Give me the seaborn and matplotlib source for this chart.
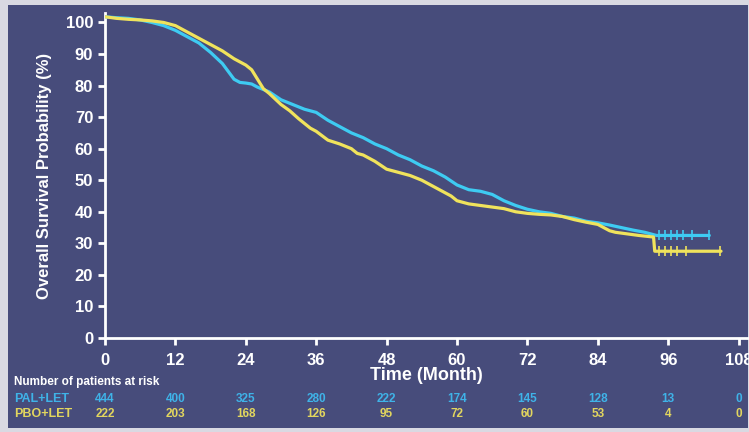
import matplotlib
matplotlib.use("Agg")
import matplotlib.pyplot as plt
from matplotlib.patches import Rectangle
import pandas as pd
import seaborn as sns

# ---------------------------------------------------------------------------
# Daten
# ---------------------------------------------------------------------------
pal_months = [0, 2, 4, 6, 8, 10, 12, 14, 16, 18, 20, 21, 22, 23, 24, 25, 26,
              28, 30, 32, 34, 36, 38, 40, 42, 44, 46, 48, 50, 52, 54, 56, 58,
              60, 62, 64, 66, 68, 70, 72, 74, 76, 78, 80, 82, 84, 86, 88, 90,
              92, 93, 94, 103]
pal_surv = [101.8, 101.5, 101.3, 100.8, 100, 99, 97.5, 95.5, 93.5, 90.5, 87,
            84.5, 82, 81, 80.8, 80.5, 79.5, 78, 75.5, 74, 72.5, 71.5, 69, 67,
            65, 63.5, 61.5, 60, 58, 56.5, 54.5, 53, 51, 48.5, 47, 46.5, 45.5,
            43.5, 42, 40.8, 40, 39.5, 38.5, 38, 37, 36.5, 35.8, 35, 34.2, 33.5,
            33, 32.5, 32.5]

pbo_months = [0, 2, 4, 6, 8, 10, 12, 14, 16, 18, 20, 22, 24, 25, 26, 27, 28,
              30, 31.5, 33, 35, 36, 38, 40, 42, 43, 44, 46, 48, 50, 52, 54, 56,
              57, 58, 59, 60, 62, 64, 66, 68, 70, 72, 74, 76, 78, 80, 82, 84,
              86, 87, 89, 91, 93.5, 93.7, 105]
pbo_surv = [101.8, 101.3, 101, 100.8, 100.5, 100, 99, 97, 95, 93, 91, 88.5,
            86.5, 85, 82, 79, 77.5, 74, 72, 69.5, 66.5, 65.5, 62.7, 61.5, 60,
            58.5, 58, 56, 53.5, 52.5, 51.5, 50, 48, 47, 46, 45, 43.5, 42.5, 42,
            41.5, 41, 40, 39.5, 39.2, 39, 38.5, 37.5, 36.7, 36, 34, 33.5, 33,
            32.5, 32, 27.5, 27.5]

# zensierte Beobachtungen (Tick-Markierungen)
pal_cens_t = [94.5, 95.5, 96.5, 97.5, 98.5, 100, 103]
pal_cens_s = [32.5, 32.5, 32.5, 32.5, 32.5, 32.5, 32.5]
pbo_cens_t = [94.5, 95.5, 96.5, 97.5, 99, 104.8]
pbo_cens_s = [27.5, 27.5, 27.5, 27.5, 27.5, 27.5]

tick_months = [0, 12, 24, 36, 48, 60, 72, 84, 96, 108]
pal_at_risk = [444, 400, 325, 280, 222, 174, 145, 128, 13, 0]
pbo_at_risk = [222, 203, 168, 126, 95, 72, 60, 53, 4, 0]

# ---------------------------------------------------------------------------
# Stil
# ---------------------------------------------------------------------------
BG = "#474c7b"
FRAME = "#d9d9e2"
PAL_COLOR = "#3ecbf2"
PBO_COLOR = "#f0e35c"
PAL_TXT = "#3fb3e8"
PBO_TXT = "#e2d65e"

sns.set_theme(style="ticks")
plt.rcParams["font.family"] = ["Liberation Sans", "DejaVu Sans"]
plt.rcParams["font.weight"] = "bold"

fig = plt.figure(figsize=(7.49, 4.32), dpi=100, facecolor=FRAME)
fig.patches.append(Rectangle((8 / 749, 4 / 432), 740 / 749, 423 / 432,
                             transform=fig.transFigure, facecolor=BG,
                             edgecolor="none", zorder=-10))

ax = fig.add_axes([105 / 749, (432 - 338) / 432, 643 / 749, 325 / 432])
ax.set_facecolor(BG)

df = pd.concat([
    pd.DataFrame({"Monat": pal_months, "OS": pal_surv, "Arm": "PAL+LET"}),
    pd.DataFrame({"Monat": pbo_months, "OS": pbo_surv, "Arm": "PBO+LET"}),
])
sns.lineplot(data=df, x="Monat", y="OS", hue="Arm", units="Arm",
             estimator=None, sort=False,
             palette={"PAL+LET": PAL_COLOR, "PBO+LET": PBO_COLOR},
             linewidth=2.3, legend=False, ax=ax, zorder=3)
ax.plot(pal_cens_t, pal_cens_s, linestyle="none", marker="|",
        markersize=7, markeredgewidth=1.2, color=PAL_COLOR, zorder=4)
ax.plot(pbo_cens_t, pbo_cens_s, linestyle="none", marker="|",
        markersize=7, markeredgewidth=1.2, color=PBO_COLOR, zorder=4)

ax.set_xlim(0, 109.6)
ax.set_ylim(0, 103)
ax.set_xticks(tick_months)
ax.set_yticks(range(0, 101, 10))
for side in ("top", "right"):
    ax.spines[side].set_visible(False)
for side in ("left", "bottom"):
    ax.spines[side].set_color("white")
    ax.spines[side].set_linewidth(2)
ax.tick_params(colors="white", width=2, length=5, labelsize=12,
               direction="out")
ax.tick_params(axis="x", pad=6)
for lab in ax.get_xticklabels() + ax.get_yticklabels():
    lab.set_fontweight("bold")

ax.set_xlabel("Time (Month)", color="white", fontsize=13, fontweight="bold",
              labelpad=-1)
ax.set_ylabel("Overall Survival Probability (%)", color="white", fontsize=12,
              fontweight="bold", labelpad=10)

# ---------------------------------------------------------------------------
# Patienten unter Risiko
# ---------------------------------------------------------------------------
fig.text(14 / 749, 1 - 382 / 432, "Number of patients at risk", color="white",
         fontsize=8.5, fontweight="bold", va="center", ha="left")
fig.text(14 / 749, 1 - 399 / 432, "PAL+LET", color=PAL_TXT, fontsize=9,
         fontweight="bold", va="center", ha="left")
fig.text(14 / 749, 1 - 414 / 432, "PBO+LET", color=PBO_TXT, fontsize=9,
         fontweight="bold", va="center", ha="left")

trans = ax.get_xaxis_transform()
for m, n_pal, n_pbo in zip(tick_months, pal_at_risk, pbo_at_risk):
    ax.text(m, -(399 - 338) / 325, str(n_pal), transform=trans, color=PAL_TXT,
            fontsize=8.5, fontweight="bold", ha="center", va="center",
            clip_on=False)
    ax.text(m, -(414 - 338) / 325, str(n_pbo), transform=trans, color=PBO_TXT,
            fontsize=8.5, fontweight="bold", ha="center", va="center",
            clip_on=False)

fig.savefig("out.png", dpi=100, facecolor=FRAME)
